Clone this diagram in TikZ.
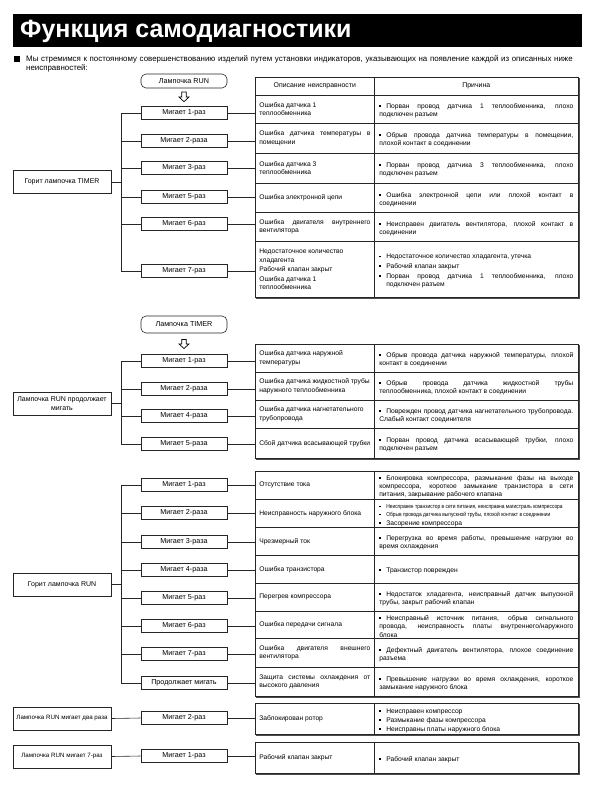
\documentclass[tikz,border=0pt]{standalone}
\usepackage{fontspec}
\setmainfont{Liberation Sans}
\newfontfamily\narrowf[FakeStretch=0.84]{Liberation Sans}
\usetikzlibrary{shadows}
\hyphenpenalty=10000
\exhyphenpenalty=10000
\tolerance=10000
\newcommand\fsz{\fontsize{6.7}{8.2}\selectfont}
\newcommand\fsb{\fontsize{7.2}{8.6}\selectfont}
\newcommand\bsq{\rule[1.6pt]{1.7pt}{1.7pt}}
\newcommand\bitem{\par\hangindent=7pt\hangafter=1\noindent\makebox[7pt][l]{\bsq}}
\newcommand\titem[1]{\par\hangindent=7pt\hangafter=1\noindent\makebox[7pt][l]{\rule[1.4pt]{1.4pt}{1.4pt}}\mbox{\narrowf\fontsize{5.8}{8.2}\selectfont #1}}
\newcommand\trow[5]{%
  \node[lcell, minimum height={(#3-#2)*1pt}, anchor=north west] (#1l) at (255,#2) {#4};
  \node[rcell, minimum height={(#3-#2)*1pt}, anchor=north west] (#1r) at (374,#2) {#5};}
\newcommand\tshadow[2]{\fill[black!70] (256.4,#1+1.2) rectangle (579.6,#2+1.6);}
\tikzset{
  dbase/.style={font=\fsz, line width=0.6pt, draw=black!85},
  cellb/.style={dbase, draw, fill=white, inner ysep=1pt, align=justify},
  lcell/.style={cellb, text width=111pt, inner xsep=4pt},
  rcell/.style={cellb, text width=194pt, inner xsep=5pt},
  hcell/.style={cellb, align=center, font=\fontsize{6.9}{8.2}\selectfont},
  shd/.style={drop shadow={opacity=1, shadow xshift=0.7pt, shadow yshift=-0.7pt, fill=black!70}},
  blink/.style={dbase, font=\fsb, draw, fill=white, minimum width=86pt, minimum height=13pt, inner sep=0pt, shd},
  src/.style={dbase, font=\fontsize{7}{8.4}\selectfont, draw, fill=white, minimum width=98pt, minimum height=23pt, inner sep=1pt, align=center, shd},
  lamp/.style={dbase, font=\fsb, draw, fill=white, rounded corners=5pt, minimum width=86pt, minimum height=14pt, inner sep=0pt},
  conn/.style={line width=0.6pt, draw=black!85},
  arr/.style={line width=0.7pt, draw=black, fill=white, line join=miter},
}
\begin{document}
\begin{tikzpicture}[x=1pt,y=-1pt]
\useasboundingbox (0,0) rectangle (594,787);
% header
\fill[black] (13,14) rectangle (582,47);
\node[anchor=west, text=white, inner sep=0pt, font=\fontsize{25}{28}\bfseries\selectfont] (title) at (20,31) {Функция самодиагностики};
\fill[black] (14,55.5) rectangle (20,61.5);
\node[anchor=north west, inner sep=0pt, text width=565pt, align=left, font=\fontsize{7.9}{9}\selectfont] (intro) at (26,55.5) {Мы стремимся к постоянному совершенствованию изделий путем установки индикаторов, указывающих на появление каждой из описанных ниже\\неисправностей:};

% ===== Section 1 =====
\node[lamp] (l1) at (184,81) {Лампочка RUN};
\coordinate (ar1) at (184,92);
\draw[arr] (ar1) ++(-2.3,0) -- ++(0,5) -- ++(-2.7,0) -- ++(5,4.7) -- ++(5,-4.7) -- ++(-2.7,0) -- ++(0,-5) -- cycle;
\node[src] (s1) at (62,182) {Горит лампочка TIMER};
\node[blink] (p11) at (184,113) {Мигает 1-раз};
\node[blink] (p12) at (184,141) {Мигает 2-раза};
\node[blink] (p13) at (184,168) {Мигает 3-раз};
\node[blink] (p14) at (184,197) {Мигает 5-раз};
\node[blink] (p15) at (184,224) {Мигает 6-раз};
\node[blink] (p16) at (184,271) {Мигает 7-раз};
\tshadow{77}{297}
\node[hcell, text width=111pt, inner xsep=4pt, minimum height=18pt, anchor=north west] (h1l) at (255,77) {Описание неисправности};
\node[hcell, text width=194pt, inner xsep=5pt, minimum height=18pt, anchor=north west] (h1r) at (374,77) {Причина};
\trow{a1}{95}{123}{Ошибка датчика 1\\теплообменника}{\bitem Порван провод датчика 1 теплообменника, плохо\linebreak подключен разъем}
\trow{a2}{123}{153}{Ошибка датчика температуры в\linebreak помещении}{\bitem Обрыв провода датчика температуры в помещении,\linebreak плохой контакт в соединении}
\trow{a3}{153}{183}{Ошибка датчика 3\\теплообменника}{\bitem Порван провод датчика 3 теплообменника, плохо\linebreak подключен разъем}
\trow{a4}{183}{212}{Ошибка электронной цепи}{\bitem Ошибка электронной цепи или плохой контакт в\linebreak соединении}
\trow{a5}{212}{241}{Ошибка двигателя внутреннего\linebreak вентилятора}{\bitem Неисправен двигатель вентилятора, плохой контакт в\linebreak соединении}
\trow{a6}{241}{297}{Недостаточное количество\\хладагента\par\vspace{1.3pt}Рабочий клапан закрыт\par\vspace{1.3pt}Ошибка датчика 1\\теплообменника}{\bitem Недостаточное количество хладагента, утечка\par\vspace{1.5pt}\bitem Рабочий клапан закрыт\par\vspace{1.5pt}\bitem Порван провод датчика 1 теплообменника, плохо\linebreak подключен разъем\par\vspace{7pt}}
\coordinate (bus1) at (121,0);
\draw[conn] (s1.east) -- (s1.east -| bus1);
\draw[conn] (p11.west) -- (p11.west -| bus1) -- (p16.west -| bus1) -- (p16.west);
\foreach \i in {2,...,5} {\draw[conn] (p1\i.west) -- (p1\i.west -| bus1);}
\foreach \i in {1,...,6} {\draw[conn] (p1\i.east) -- (p1\i.east -| a1l.west);}

% ===== Section 2 =====
\node[lamp, minimum height=17pt] (l2) at (184,324.5) {Лампочка TIMER};
\coordinate (ar2) at (184,339.5);
\draw[arr] (ar2) ++(-2.3,0) -- ++(0,4.5) -- ++(-2.7,0) -- ++(5,4.5) -- ++(5,-4.5) -- ++(-2.7,0) -- ++(0,-4.5) -- cycle;
\node[src] (s2) at (62,403.5) {Лампочка RUN продолжает\\мигать};
\node[blink] (p21) at (184,361) {Мигает 1-раз};
\node[blink] (p22) at (184,389) {Мигает 2-раза};
\node[blink] (p23) at (184,416) {Мигает 4-раза};
\node[blink] (p24) at (184,444) {Мигает 5-раза};
\tshadow{344}{458}
\trow{b1}{344}{372}{Ошибка датчика наружной\\температуры}{\bitem Обрыв провода датчика наружной температуры, плохой\linebreak контакт в соединении}
\trow{b2}{372}{400}{Ошибка датчика жидкостной трубы\\наружного теплообменника}{\bitem Обрыв провода датчика жидкостной трубы\linebreak теплообменника, плохой контакт в соединении}
\trow{b3}{400}{428}{Ошибка датчика нагнетательного\\трубопровода}{\bitem Поврежден провод датчика нагнетательного трубопровода.\linebreak Слабый контакт соединителя}
\trow{b4}{428}{458}{Сбой датчика всасывающей трубки}{\bitem Порван провод датчика всасывающей трубки, плохо\linebreak подключен разъем}
\coordinate (bus2) at (121,0);
\draw[conn] (s2.east) -- (s2.east -| bus2);
\draw[conn] (p21.west) -- (p21.west -| bus2) -- (p24.west -| bus2) -- (p24.west);
\foreach \i in {2,3} {\draw[conn] (p2\i.west) -- (p2\i.west -| bus2);}
\foreach \i in {1,...,4} {\draw[conn] (p2\i.east) -- (p2\i.east -| b1l.west);}

% ===== Section 3 =====
\node[src] (s3) at (62,584.5) {Горит лампочка RUN};
\node[blink] (p31) at (184,485) {Мигает 1-раз};
\node[blink] (p32) at (184,513) {Мигает 2-раза};
\node[blink] (p33) at (184,542) {Мигает 3-раза};
\node[blink] (p34) at (184,570) {Мигает 4-раза};
\node[blink] (p35) at (184,598) {Мигает 5-раз};
\node[blink] (p36) at (184,626) {Мигает 6-раз};
\node[blink] (p37) at (184,654) {Мигает 7-раз};
\node[blink] (p38) at (184,683) {Продолжает мигать};
\tshadow{471}{696}
\trow{c1}{471}{499}{Отсутствие тока}{\bitem Блокировка компрессора, размыкание фазы на выходе\linebreak компрессора, короткое замыкание транзистора в сети\linebreak питания, закрывание рабочего клапана}
\trow{c2}{499}{527}{Неисправность наружного блока}{\titem{Неисправен транзистор в сети питания, неисправна магистраль компрессора}\titem{Обрыв провода датчика выпускной трубы, плохой контакт в соединении}\par\vspace{0.8pt}\bitem Засорение компрессора}
\trow{c3}{527}{555}{Чрезмерный ток}{\bitem Перегрузка во время работы, превышение нагрузки во\linebreak время охлаждения}
\trow{c4}{555}{583}{Ошибка транзистора}{\bitem Транзистор поврежден}
\trow{c5}{583}{611}{Перегрев компрессора}{\bitem Недостаток хладагента, неисправный датчик выпускной\linebreak трубы, закрыт рабочий клапан}
\trow{c6}{611}{638}{Ошибка передачи сигнала}{\bitem Неисправный источник питания, обрыв сигнального\linebreak провода, неисправность платы внутреннего/наружного\linebreak блока}
\trow{c7}{638}{667}{Ошибка двигателя внешнего\linebreak вентилятора}{\bitem Дефектный двигатель вентилятора, плохое соединение\linebreak разъема}
\trow{c8}{667}{696}{Защита системы охлаждения от\linebreak высокого давления}{\bitem Превышение нагрузки во время охлаждения, короткое\linebreak замыкание наружного блока}
\coordinate (bus3) at (121,0);
\draw[conn] (s3.east) -- (s3.east -| bus3);
\draw[conn] (p31.west) -- (p31.west -| bus3) -- (p38.west -| bus3) -- (p38.west);
\foreach \i in {2,...,7} {\draw[conn] (p3\i.west) -- (p3\i.west -| bus3);}
\foreach \i in {1,...,8} {\draw[conn] (p3\i.east) -- (p3\i.east -| c1l.west);}

% ===== Section 4 =====
\node[src, font=\fontsize{6.2}{7.5}\selectfont] (s4) at (62,718.5) {Лампочка RUN мигает два раза};
\node[blink] (p41) at (184,718) {Мигает 2-раз};
\tshadow{703}{734}
\trow{d1}{703}{734}{Заблокирован ротор}{\bitem Неисправен компрессор\par\vspace{0.8pt}\bitem Размыкание фазы компрессора\par\vspace{0.8pt}\bitem Неисправны платы наружного блока}
\draw[conn] (s4.east) -- (p41.west);
\draw[conn] (p41.east) -- (p41.east -| d1l.west);

% ===== Section 5 =====
\node[src, font=\fontsize{6.2}{7.5}\selectfont] (s5) at (62,756.5) {Лампочка RUN мигает 7-раз};
\node[blink] (p51) at (184,756) {Мигает 1-раз};
\tshadow{742}{773}
\trow{e1}{742}{773}{Рабочий клапан закрыт}{\bitem Рабочий клапан закрыт}
\draw[conn] (s5.east) -- (p51.west);
\draw[conn] (p51.east) -- (p51.east -| e1l.west);
\end{tikzpicture}
\end{document}
